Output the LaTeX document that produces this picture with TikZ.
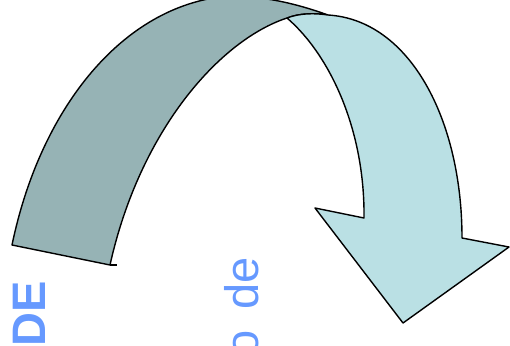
\documentclass[tikz,border=0pt]{standalone}
\usepackage{fontspec}
\setmainfont{Liberation Sans}
\definecolor{bandgray}{RGB}{150,179,181}
\definecolor{bandcyan}{RGB}{186,224,228}
\definecolor{labelblue}{RGB}{102,153,255}

\begin{document}
\begin{tikzpicture}[x=1pt,y=-1pt,line join=round,
    band/.style={draw=black,line width=1.4pt},
    sidetext/.style={text=labelblue,rotate=90,anchor=base east,inner sep=0pt,
      font=\fontsize{47}{50}\selectfont}]
    \useasboundingbox (0,0) rectangle (510,345);

    % back half of the ribbon
    \filldraw[band,fill=bandgray] (110,265) -- (12,245)
      .. controls (40,110) and (120,10) .. (220,-3)
      .. controls (262,-6) and (300,5) .. (328,15)
      .. controls (315,13) and (300,13) .. (287,18)
      .. controls (220,40) and (140,130) .. (110,265) -- cycle;
    \draw[line width=1.4pt] (110,265) -- (117,265);

    % front half with the head
    \filldraw[band,fill=bandcyan] (287,18)
      .. controls (330,55) and (365,130) .. (364,218)
      -- (315,208) -- (403,323) -- (509,247) -- (462,238)
      .. controls (462,120) and (410,20) .. (328,15)
      .. controls (315,13) and (300,13) .. (287,18) -- cycle;

    \node[sidetext,font=\fontsize{47}{50}\selectfont\bfseries] (de) at (45,281) {DE};
    \node[sidetext] (ode) at (258,257) {\spaceskip=0.45em o de};
\end{tikzpicture}
\end{document}
